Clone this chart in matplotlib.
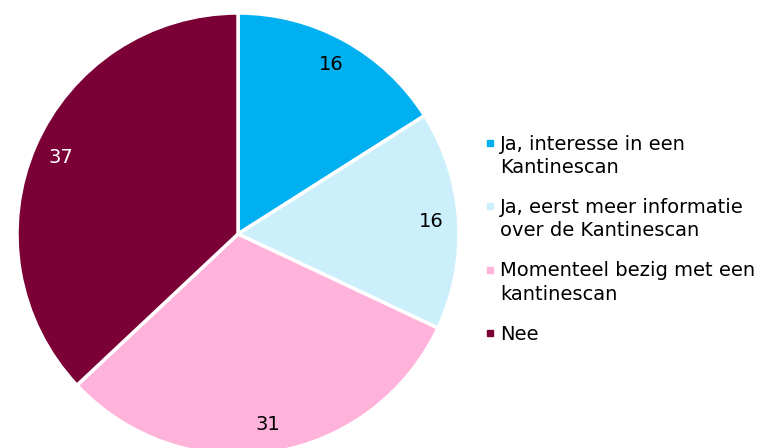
import matplotlib.pyplot as plt
from matplotlib.patches import Rectangle

labels = ["Ja, interesse in een\nKantinescan",
          "Ja, eerst meer informatie\nover de Kantinescan",
          "Momenteel bezig met een\nkantinescan",
          "Nee"]
values = [16, 16, 31, 37]
colors = ["#00B0F0", "#CCEFFC", "#FFB3DA", "#7A0036"]

fig = plt.figure(figsize=(7.71, 4.48), dpi=100)
W, H = 771, 448
cx, cy, r = 238, 234, 221
ax = fig.add_axes([(cx - r) / W, (H - cy - r) / H, 2 * r / W, 2 * r / H])

wedges, texts = ax.pie(values, colors=colors, startangle=90, counterclock=False,
                       labels=[str(v) for v in values], labeldistance=0.875,
                       wedgeprops=dict(edgecolor="white", linewidth=2.5),
                       textprops=dict(fontsize=14, color="black"))
for t, c in zip(texts, colors):
    t.set_horizontalalignment("center")
    t.set_verticalalignment("center")
    if c == "#7A0036":
        t.set_color("white")
ax.set_xlim(-1, 1)
ax.set_ylim(-1, 1)
ax.set_aspect("auto")

# legend (baseline of multi-line text = last line, so shift down)
base0 = 150
step = 23
for i, (lab, c) in enumerate(zip(labels, colors)):
    yb = base0 + i * 63.3
    nl = lab.count("\n")
    fig.patches.append(Rectangle((487 / W, (H - yb + 4) / H), 6 / W, 6 / H,
                                 transform=fig.transFigure, color=c))
    fig.text(500 / W, (H - yb - nl * step) / H, lab, fontsize=14, va="baseline",
             ha="left", linespacing=1.3, transform=fig.transFigure)

fig.savefig("out.png", dpi=100)
